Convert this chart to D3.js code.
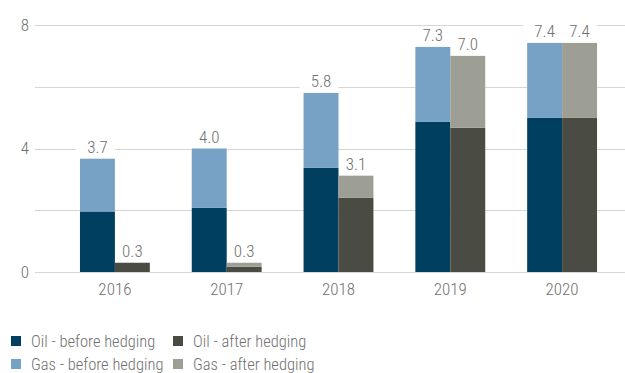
<!DOCTYPE html>
<html><head><meta charset="utf-8">
<script src="https://cdn.jsdelivr.net/npm/d3@7"></script>
<style>
html,body{margin:0;padding:0;background:#fff;}
svg text{font-family:"Liberation Sans Narrow","Roboto Condensed","Roboto",sans-serif;fill:#707070;font-weight:300;}
</style></head>
<body><svg id="chart" width="625" height="373"></svg>
<script>
const years = ["2016","2017","2018","2019","2020"];
const oilBefore = [1.96, 2.08, 3.38, 4.86, 4.99];
const gasBefore = [1.71, 1.92, 2.42, 2.43, 2.43];
const oilAfter  = [0.30, 0.17, 2.40, 4.67, 4.99];
const gasAfter  = [0.00, 0.13, 0.72, 2.33, 2.43];
const beforeLabels = ["3.7","4.0","5.8","7.3","7.4"];
const afterLabels  = ["0.3","0.3","3.1","7.0","7.4"];
const gridValues = [0, 2, 4, 6, 8];
const tickValues = [0, 4, 8];
const seriesNames = ["Oil - before hedging","Oil - after hedging","Gas - before hedging","Gas - after hedging"];
const colors = {oilB:"#003f60", gasB:"#77a1c5", oilA:"#4a4c44", gasA:"#9d9e94"};

const svg = d3.select("#chart");
const x = d3.scaleBand().domain(years).range([59, 618]).paddingInner(0.375).paddingOuter(0.1875);
const x1 = d3.scaleBand().domain(["before","after"]).range([0, x.bandwidth()]);
const y = d3.scaleLinear().domain([0, 8]).range([272, 25]);

// gridlines
svg.append("g").selectAll("line").data(gridValues).join("line")
  .attr("x1", 35).attr("x2", 625)
  .attr("y1", d => Math.round(y(d)) + 0.5).attr("y2", d => Math.round(y(d)) + 0.5)
  .attr("stroke", "#d6d6d6").attr("stroke-width", 1.2);

// y tick labels
svg.append("g").selectAll("text").data(tickValues).join("text")
  .attr("x", 29).attr("y", d => y(d) + 5.5)
  .attr("text-anchor", "end").attr("font-size", 17).text(d => d);

// data rows
const rows = years.map((yr, i) => ({yr, i}));
const stacks = [
  {key:"before", bottom: oilBefore, top: gasBefore, cb: colors.oilB, ct: colors.gasB, labels: beforeLabels},
  {key:"after",  bottom: oilAfter,  top: gasAfter,  cb: colors.oilA, ct: colors.gasA, labels: afterLabels}
];
const gBars = svg.append("g");
stacks.forEach(s => {
  gBars.selectAll(null).data(rows).join("rect")
    .attr("x", d => x(d.yr) + x1(s.key) - 4)
    .attr("width", x1.bandwidth() + 4)
    .attr("y", d => y(s.bottom[d.i] + s.top[d.i]) - 20)
    .attr("height", 20)
    .attr("fill", "#fff");
});
stacks.forEach(s => {
  gBars.selectAll(null).data(rows).join("rect")
    .attr("x", d => x(d.yr) + x1(s.key))
    .attr("width", x1.bandwidth())
    .attr("y", d => y(s.bottom[d.i]))
    .attr("height", d => y(0) - y(s.bottom[d.i]))
    .attr("fill", s.cb);
  gBars.selectAll(null).data(rows).join("rect")
    .attr("x", d => x(d.yr) + x1(s.key))
    .attr("width", x1.bandwidth())
    .attr("y", d => y(s.bottom[d.i] + s.top[d.i]))
    .attr("height", d => y(s.bottom[d.i]) - y(s.bottom[d.i] + s.top[d.i]))
    .attr("fill", s.ct);
  gBars.selectAll(null).data(rows).join("text")
    .attr("x", d => x(d.yr) + x1(s.key) + x1.bandwidth() / 2)
    .attr("y", d => y(s.bottom[d.i] + s.top[d.i]) - 6)
    .attr("text-anchor", "middle").attr("font-size", 17)
    .text(d => s.labels[d.i]);
});

// x axis labels
svg.append("g").selectAll("text").data(years).join("text")
  .attr("x", d => x(d) + x.bandwidth() / 2).attr("y", 295)
  .attr("text-anchor", "middle").attr("font-size", 17).text(d => d);

// legend
const legendPos = [[11, 336], [173, 336], [11, 359], [173, 359]];
const legendColors = [colors.oilB, colors.oilA, colors.gasB, colors.gasA];
const lg = svg.append("g").selectAll("g").data(seriesNames).join("g")
  .attr("transform", (d, i) => `translate(${legendPos[i][0]},${legendPos[i][1]})`);
lg.append("rect").attr("width", 10).attr("height", 10).attr("fill", (d, i) => legendColors[i]);
lg.append("text").attr("x", 20).attr("y", 10.5).attr("font-size", 16.5).text(d => d);
</script></body></html>
